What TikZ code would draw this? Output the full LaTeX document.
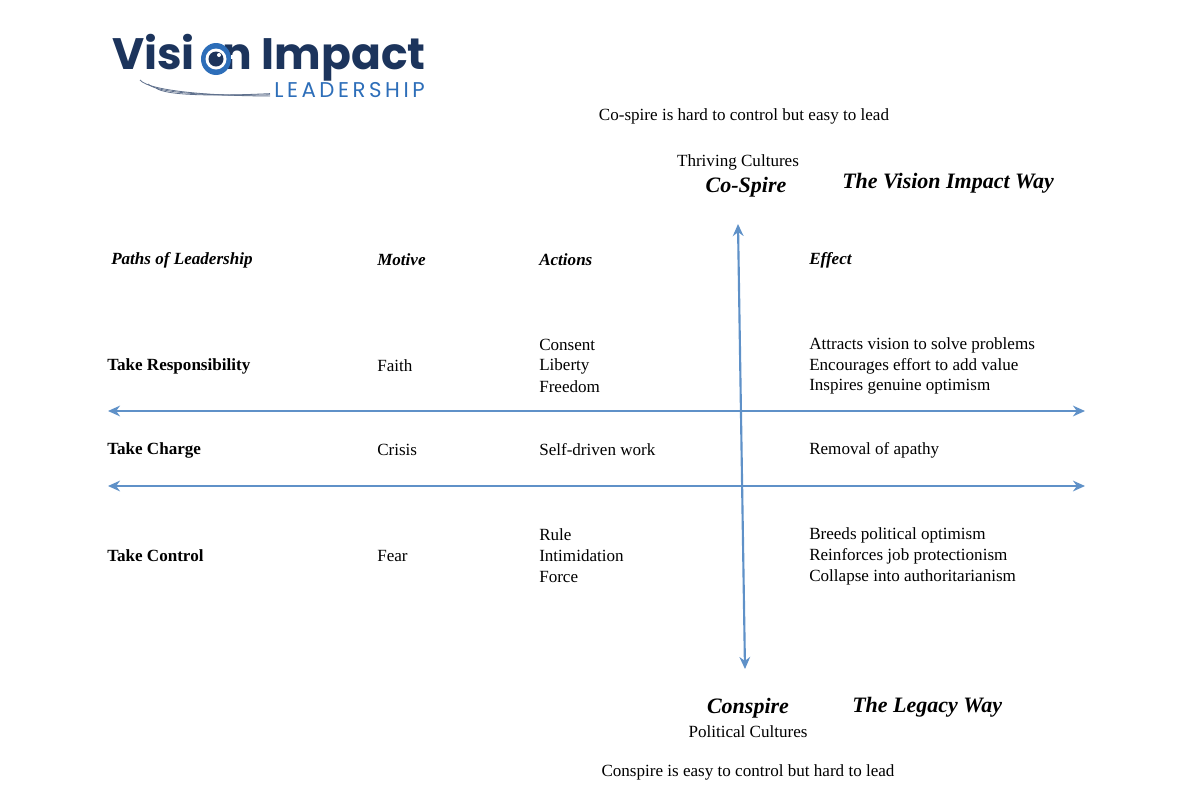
\documentclass[tikz,border=0pt]{standalone}
\usepackage{fontspec}
\setmainfont{Liberation Serif}
\newfontfamily\logofont{Poppins}
\usetikzlibrary{arrows.meta}
\definecolor{arrowblue}{RGB}{95,145,200}
\definecolor{navy}{RGB}{28,52,92}
\definecolor{logoblue}{RGB}{45,110,185}
\tikzset{
  txt/.style={anchor=west,inner sep=0pt,font=\fontsize{12.8}{15}\selectfont},
  ctxt/.style={inner sep=0pt,font=\fontsize{12.8}{15}\selectfont},
  bt/.style={txt,font=\fontsize{12.8}{15}\selectfont\bfseries},
  hd/.style={txt,font=\fontsize{12.8}{15}\selectfont\bfseries\itshape},
  big/.style={inner sep=0pt,font=\fontsize{16.5}{19}\selectfont\bfseries\itshape},
  ax/.style={arrowblue,line width=1.6pt,{Stealth[length=9pt,width=8pt]}-{Stealth[length=9pt,width=8pt]}}
}
\begin{document}
\begin{tikzpicture}[x=0.75pt,y=-0.75pt]
\useasboundingbox[fill=white] (0,0) rectangle (1182,801);
% logo
\node[anchor=west,inner sep=0pt,text=navy,font=\logofont\fontsize{33}{36}\selectfont\bfseries] (logo) at (112,58) {Visi\phantom{o}n Impact};
\coordinate (eye) at (216,59);
\fill[logoblue] (eye) ellipse (15 and 16);
\fill[white] (eye) circle (10.5);
\fill[navy] (eye) circle (7.5);
\fill[white] (219,55) circle (2);
\fill[white] (196,59) rectangle (201,63);
\fill[white] (231,55) rectangle (236,59);
\node[anchor=west,inner sep=0pt,text=logoblue,font=\logofont\fontsize{16}{18}\selectfont] (lead) at (274,90) {L\,E\,A\,D\,E\,R\,S\,H\,I\,P};
\foreach \d in {0,4,8} \draw[navy!70,line width=0.6pt] (140+\d*2,80+\d) .. controls (150+\d*2,92+\d*0.5) and (220,96) .. (270,96-\d*0.3);
% axes
\coordinate (hl1) at (108,411); \coordinate (hr1) at (1085,411);
\coordinate (hl2) at (108,486); \coordinate (hr2) at (1085,486);
\coordinate (vt) at (738,224); \coordinate (vb) at (745,669);
\draw[ax] (hl1) -- (hr1);
\draw[ax] (hl2) -- (hr2);
\draw[ax] (vt) -- (vb);
% top texts
\node[ctxt] (t1) at (744,116) {Co-spire is hard to control but easy to lead};
\node[ctxt] (t2) at (738,162) {Thriving Cultures};
\node[big] (t3) at (746,187) {Co-Spire};
\node[big,anchor=west] (t4) at (842,183) {The Vision Impact Way};
% headers
\node[hd] (h1) at (111,260) {Paths of Leadership};
\node[hd] (h2) at (377,260) {Motive};
\node[hd] (h3) at (539,260) {Actions};
\node[hd] (h4) at (809,260) {Effect};
% rows
\node[bt] (r1) at (107,366) {Take Responsibility};
\node[txt] (m1) at (377,366) {Faith};
\node[txt] (a11) at (539,345) {Consent};
\node[txt] (a12) at (539,366) {Liberty};
\node[txt] (a13) at (539,387) {Freedom};
\node[txt] (e11) at (809,345) {Attracts vision to solve problems};
\node[txt] (e12) at (809,366) {Encourages effort to add value};
\node[txt] (e13) at (809,387) {Inspires genuine optimism};
\node[bt] (r2) at (107,450) {Take Charge};
\node[txt] (m2) at (377,450) {Crisis};
\node[txt] (a2) at (539,450) {Self-driven work};
\node[txt] (e2) at (809,450) {Removal of apathy};
\node[bt] (r3) at (107,556) {Take Control};
\node[txt] (m3) at (377,556) {Fear};
\node[txt] (a31) at (539,535) {Rule};
\node[txt] (a32) at (539,556) {Intimidation};
\node[txt] (a33) at (539,577) {Force};
\node[txt] (e31) at (809,535) {Breeds political optimism};
\node[txt] (e32) at (809,556) {Reinforces job protectionism};
\node[txt] (e33) at (809,577) {Collapse into authoritarianism};
% bottom
\node[big] (b1) at (748,708) {Conspire};
\node[big,anchor=west] (b2) at (852,707) {The Legacy Way};
\node[ctxt] (b3) at (748,732) {Political Cultures};
\node[ctxt] (b4) at (748,772) {Conspire is easy to control but hard to lead};
\end{tikzpicture}
\end{document}
